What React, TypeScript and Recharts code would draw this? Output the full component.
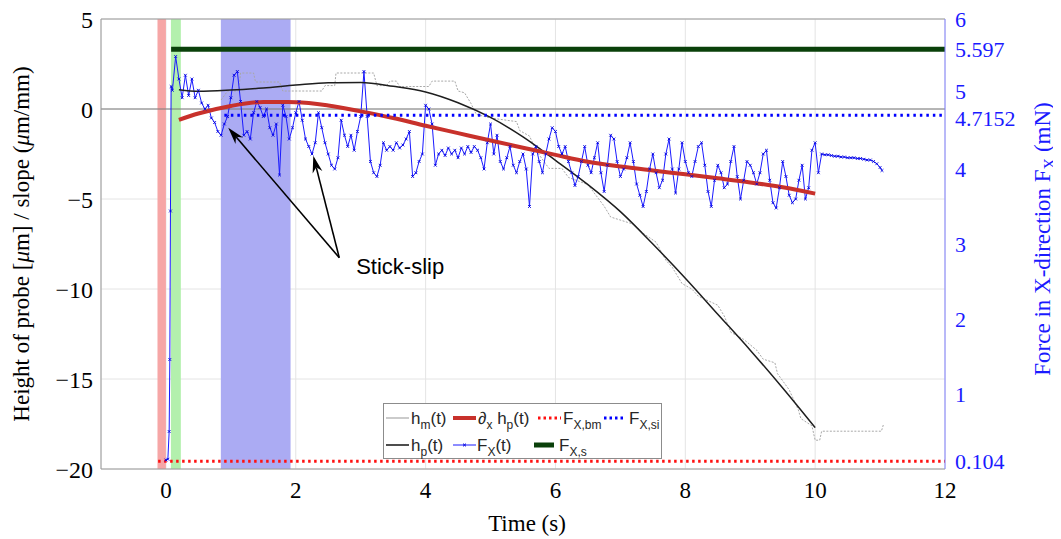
import React from 'react';
import {
  ComposedChart,
  Line,
  XAxis,
  YAxis,
  CartesianGrid,
  ReferenceArea,
  ReferenceLine,
  ReferenceDot,
} from 'recharts';

// ---------- axes ----------
const X_TICKS = [0, 2, 4, 6, 8, 10, 12];
const LEFT_TICKS = [-20, -15, -10, -5, 0, 5];
const RIGHT_TICKS = [0.104, 1, 2, 3, 4, 4.7152, 5, 5.597, 6];

// ---------- h_p(t) (smooth fit, left axis) ----------
const HP_T = [0.2, 0.5, 1, 1.5, 2, 2.5, 3, 3.5, 4, 4.5, 5, 5.5, 6, 6.5, 7, 7.5, 8, 8.5, 9, 9.5, 10];
const HP_V = [1.07, 0.98, 1.05, 1.17, 1.33, 1.46, 1.47, 1.26, 0.95, 0.35, -0.47, -1.55, -2.85, -4.2, -5.7, -7.5, -9.4, -11.4, -13.4, -15.5, -17.7];

// ---------- d/dx h_p(t) slope (left axis) ----------
const DHP_V = [-0.6, -0.25, 0.17, 0.39, 0.38, 0.2, -0.13, -0.5, -0.93, -1.34, -1.75, -2.15, -2.55, -2.93, -3.2, -3.42, -3.63, -3.85, -4.08, -4.35, -4.7];

// ---------- h_m(t) measured (stepped, left axis) ----------
const HM_T = [0.85, 0.95, 1.12, 1.15, 1.35, 1.38, 1.75, 1.8, 2.4, 2.45, 2.6, 2.62, 3.2, 3.25, 3.4, 3.45, 3.55, 3.6, 4.05, 4.1, 4.45, 4.5, 4.6, 4.7, 4.78, 5.0, 5.4, 5.45, 5.6, 5.7, 5.9, 6.1, 6.2, 6.5, 6.75, 6.85, 7.2, 7.35, 7.55, 7.7, 7.8, 7.95, 8.1, 8.2, 8.5, 8.6, 8.7, 8.9, 9.1, 9.2, 9.38, 9.42, 9.6, 9.74, 9.78, 9.95, 10.0, 10.07, 10.1, 11.02, 11.05];
const HM_V = [0.5, 1.0, 1.0, 2.0, 2.0, 1.5, 1.5, 1.0, 1.0, 1.3, 1.3, 2.0, 2.0, 1.3, 1.3, 1.55, 1.55, 1.25, 1.25, 1.55, 1.55, 1.0, 0.9, 0.3, -0.3, -0.5, -0.7, -1.2, -1.5, -2.3, -3.3, -3.3, -3.8, -4.2, -5.4, -6.0, -6.4, -6.9, -7.4, -8.4, -8.8, -9.7, -10.0, -10.4, -10.9, -11.5, -12.4, -12.8, -13.4, -13.9, -14.1, -14.7, -15.6, -16.7, -17.2, -17.6, -18.4, -18.4, -17.9, -17.9, -17.55];

// ---------- F_X(t) force (right axis) ----------
const FX_START_T = [0.0, 0.03, 0.05, 0.06, 0.07, 0.08];
const FX_START_V = [0.12, 0.13, 0.5, 1.46, 3.44, 5.1];
const FX_T0 = 0.1;
const FX_DT = 0.05;
const FX_V = [
  5.05, 5.5, 5.2, 4.95, 5.25, 4.98, 5.2, 4.95,
  5.05, 4.88, 4.8, 4.85, 4.68, 4.62, 4.5, 4.45, 4.6, 4.7,
  4.95, 5.25, 5.3, 4.9, 4.45, 4.5, 4.4, 4.75, 4.9, 4.82,
  4.7, 4.8, 4.55, 4.45, 4.6, 3.92, 4.85, 4.7, 4.4, 4.55,
  4.75, 4.9, 4.65, 4.4, 4.3, 4.2, 4.35, 4.75, 4.55, 4.35,
  4.2, 4.05, 4.0, 4.15, 4.65, 4.45, 4.3, 4.45, 4.25, 4.5,
  4.7, 5.3, 4.7, 4.1, 3.95, 3.9, 4.05, 4.35, 4.25, 4.3,
  4.25, 4.35, 4.28, 4.32, 4.4, 4.5, 3.9, 3.95, 4.1, 4.2,
  4.85, 4.8, 4.6, 4.05, 4.2, 4.25, 4.18, 4.28, 4.2, 4.25,
  4.15, 4.28, 4.2, 4.3, 4.22, 4.3, 4.25, 4.15, 4.0, 4.35,
  4.6, 4.2, 4.45, 4.1, 4.0, 4.15, 4.3, 4.05, 3.95, 4.1,
  4.2, 4.0, 3.5, 4.2, 4.3, 4.1, 3.95, 4.2, 4.4, 4.55,
  4.5, 4.3, 4.2, 4.3, 4.1, 3.95, 3.78, 3.9, 4.1, 4.3,
  4.05, 3.95, 4.15, 4.35, 3.95, 3.7, 4.05, 4.45, 4.4, 4.1,
  3.9, 4.0, 4.15, 4.35, 4.1, 3.8, 3.65, 3.5, 3.7, 4.0,
  4.2, 3.95, 3.75, 3.85, 4.2, 4.4, 4.0, 3.68, 4.0, 4.35,
  4.1, 3.95, 3.9, 4.1, 4.3, 4.35, 4.05, 3.7, 3.5, 3.85,
  4.05, 3.95, 3.75, 3.8, 4.1, 4.3, 3.9, 3.6, 3.85, 4.1,
  4.05, 3.95, 3.8, 3.95, 4.2, 4.25, 3.85, 3.55, 3.48, 3.75,
  4.1, 3.9, 3.65, 3.55, 3.6, 3.85, 4.05, 3.6, 3.75, 4.25,
  4.35, 3.95,
];
const FX_TAIL_T = [10.1, 10.15, 10.2, 10.25, 10.3, 10.35, 10.4, 10.45, 10.5, 10.55, 10.6, 10.65, 10.7, 10.75, 10.8, 10.85, 10.9, 10.95, 11.0, 11.03];
const FX_TAIL_V = [4.2, 4.19, 4.19, 4.18, 4.17, 4.17, 4.16, 4.16, 4.15, 4.15, 4.15, 4.14, 4.14, 4.13, 4.12, 4.12, 4.1, 4.07, 4.02, 3.98];

// ---------- constant force levels (right axis) ----------
const FXS = 5.597;
const FXS_RANGE = [0.08, 12];
const FXSI = 4.7152;
const FXSI_RANGE = [0.9, 12];
const FXBM = 0.104;
const FXBM_RANGE = [-0.12, 12];

// ---------- shaded phases ----------
const BAND_RED = [-0.13, 0.0];
const BAND_GREEN = [0.077, 0.23];
const BAND_BLUE = [0.846, 1.92];

// ---------- annotation ----------
const ARROW_FROM = { x: 2.67, y: -8.26 };
const ARROW_TIPS = [{ x: 0.96, y: -1.04 }, { x: 2.27, y: -2.6 }];
const LABEL_POS = { x: 2.93, y: -8.82 };

// ---------- build series ----------
const zip = (ts: number[], vs: number[]) => ts.map((t, i) => ({ t, v: vs[i] }));
const hpData = zip(HP_T, HP_V);
const dhpData = zip(HP_T, DHP_V);
const hmData = zip(HM_T, HM_V);
const fxData = [
  ...zip(FX_START_T, FX_START_V),
  ...FX_V.map((v, i) => ({ t: +(FX_T0 + i * FX_DT).toFixed(2), v })),
  ...zip(FX_TAIL_T, FX_TAIL_V),
];
const fxsData = FXS_RANGE.map((t) => ({ t, v: FXS }));
const fxsiData = FXSI_RANGE.map((t) => ({ t, v: FXSI }));
const fxbmData = FXBM_RANGE.map((t) => ({ t, v: FXBM }));

const SERIF = '"Liberation Serif", "Times New Roman", serif';
const SANS = '"Liberation Sans", Arial, sans-serif';
const BLUE = '#1a1aff';

const fmtLeft = (v: number) => (v < 0 ? `\u2212${Math.abs(v)}` : `${v}`);

// small vertical nudges so the close labels 5 / 4.7152 do not collide
const RIGHT_NUDGE: Record<string, number> = { '5': -3, '4.7152': 3 };

const RightTick = (p: any) => {
  const { x, y, payload } = p;
  const key = String(payload.value);
  const dy = RIGHT_NUDGE[key] || 0;
  return (
    <text
      x={x}
      y={y + dy}
      dy="0.355em"
      textAnchor="start"
      fontFamily={SERIF}
      fontSize={22}
      fill={BLUE}
    >
      {key}
    </text>
  );
};

const FxDot = (p: any) => {
  const { cx, cy, index } = p;
  if (cx == null || cy == null) return <g key={`d${index}`} />;
  const s = 1.4;
  return (
    <path
      key={`d${index}`}
      d={`M${cx - s},${cy - s}L${cx + s},${cy + s}M${cx - s},${cy + s}L${cx + s},${cy - s}`}
      stroke="#0000e0"
      strokeWidth={0.9}
      fill="none"
    />
  );
};

const arrowShape = (p: any) => {
  const { x1, y1, x2, y2 } = p;
  const dx = x2 - x1;
  const dy = y2 - y1;
  const L = Math.hypot(dx, dy) || 1;
  const ux = dx / L;
  const uy = dy / L;
  const hl = 17;
  const hw = 5;
  const bx = x2 - ux * hl;
  const by = y2 - uy * hl;
  const px = -uy;
  const py = ux;
  const nx = x2 - ux * hl * 0.7;
  const ny = y2 - uy * hl * 0.7;
  return (
    <g>
      <line x1={x1} y1={y1} x2={nx} y2={ny} stroke="#000" strokeWidth={1.6} />
      <path
        d={`M${x2},${y2}L${bx + px * hw},${by + py * hw}L${nx},${ny}L${bx - px * hw},${by - py * hw}Z`}
        fill="#000"
      />
    </g>
  );
};

const Legend = () => {
  const fs = 17;
  const sub = (s: string) => (
    <tspan fontSize={12} dy={5}>
      {s}
    </tspan>
  );
  const back = (t: string) => <tspan dy={-5}>{t}</tspan>;
  return (
    <div
      style={{
        position: 'absolute',
        left: 375,
        top: 395,
        width: 279,
        height: 56,
        background: '#fff',
        border: '1px solid #8c8c8c',
        boxSizing: 'border-box',
      }}
    >
      <svg width={279} height={56} style={{ position: 'absolute', left: -1, top: -1 }}>
        <g fontFamily={SANS} fontSize={fs} fill="#262626">
          {/* row 1 */}
          <line x1={3} x2={26} y1={15} y2={15} stroke="#a8a8a8" strokeWidth={1.2} />
          <text x={28} y={21}>h{sub('m')}{back('(t)')}</text>
          <line x1={70} x2={93} y1={15} y2={15} stroke="#c8312b" strokeWidth={4} />
          <text x={95} y={21}>{'\u2202'}{sub('x')}{back(' h')}{sub('p')}{back('(t)')}</text>
          <line x1={155} x2={178} y1={15} y2={15} stroke="#ff1010" strokeWidth={3} strokeDasharray="2.5 3" />
          <text x={180} y={21}>F{sub('X,bm')}</text>
          <line x1={221} x2={243} y1={15} y2={15} stroke="#0000ff" strokeWidth={3} strokeDasharray="2.5 3" />
          <text x={246} y={21}>F{sub('X,si')}</text>
          {/* row 2 */}
          <line x1={3} x2={26} y1={42} y2={42} stroke="#222" strokeWidth={1.6} />
          <text x={28} y={48}>h{sub('p')}{back('(t)')}</text>
          <line x1={70} x2={93} y1={42} y2={42} stroke={BLUE} strokeWidth={1} />
          <path d="M80,40.6L83,43.4M80,43.4L83,40.6" stroke="#0000e0" strokeWidth={1} />
          <text x={94} y={48}>F{sub('X')}{back('(t)')}</text>
          <line x1={151} x2={171} y1={42} y2={42} stroke="#0a400a" strokeWidth={5} />
          <text x={176} y={48}>F{sub('X,s')}</text>
        </g>
      </svg>
    </div>
  );
};

export default function App() {
  return (
    <div style={{ position: 'relative', width: 1053, height: 531 }}>
      <ComposedChart
        width={1053}
        height={531}
        margin={{ top: 11, right: 46, bottom: 30, left: 33 }}
      >
        <CartesianGrid yAxisId="left" stroke="#e4e4e4" strokeWidth={1} />
        <XAxis
          type="number"
          dataKey="t"
          domain={[-1, 12]}
          ticks={X_TICKS}
          interval={0}
          allowDataOverflow
          height={40}
          tickLine={false}
          tickSize={6}
          tickMargin={7}
          axisLine={{ stroke: '#9a9a9a' }}
          tick={{ fill: '#000', fontSize: 23, fontFamily: SERIF }}
          label={{
            content: () => (
              <text x={519} y={523} textAnchor="middle" fontFamily={SERIF} fontSize={23} fill="#000">
                Time (s)
              </text>
            ),
          }}
        />
        <YAxis
          yAxisId="left"
          type="number"
          domain={[-20, 5]}
          ticks={LEFT_TICKS}
          interval={0}
          allowDataOverflow
          width={60}
          tickLine={false}
          tickSize={6}
          tickMargin={2}
          tickFormatter={fmtLeft}
          axisLine={{ stroke: '#9a9a9a' }}
          tick={{ fill: '#000', fontSize: 24, fontFamily: SERIF }}
          label={{
            content: () => (
              <text
                x={16}
                y={236}
                transform="rotate(-90 16 236)"
                textAnchor="middle"
                dominantBaseline="middle"
                fontFamily={SERIF}
                fontSize={23}
                fill="#000"
              >
                Height of probe [<tspan fontStyle="italic">{'\u03bc'}</tspan>m] / slope (
                <tspan fontStyle="italic">{'\u03bc'}</tspan>m/mm)
              </text>
            ),
          }}
        />
        <YAxis
          yAxisId="right"
          orientation="right"
          type="number"
          domain={[0, 6]}
          ticks={RIGHT_TICKS}
          interval={0}
          allowDataOverflow
          width={70}
          tickLine={false}
          tickSize={6}
          tickMargin={4}
          axisLine={{ stroke: '#8080ff' }}
          tick={RightTick}
          label={{
            content: () => (
              <text
                x={1037}
                y={231}
                transform="rotate(-90 1037 231)"
                textAnchor="middle"
                dominantBaseline="middle"
                fontFamily={SERIF}
                fontSize={23}
                fill={BLUE}
              >
                Force in X-direction F<tspan fontSize={16} dy={6}>X</tspan>
                <tspan dy={-6}> (mN)</tspan>
              </text>
            ),
          }}
        />

        <ReferenceArea yAxisId="left" x1={BAND_RED[0]} x2={BAND_RED[1]} fill="#f6a6a6" fillOpacity={1} stroke="none" />
        <ReferenceArea yAxisId="left" x1={BAND_GREEN[0]} x2={BAND_GREEN[1]} fill="#b3f0ad" fillOpacity={1} stroke="none" />
        <ReferenceArea yAxisId="left" x1={BAND_BLUE[0]} x2={BAND_BLUE[1]} fill="#ababf3" fillOpacity={1} stroke="none" />

        <ReferenceLine yAxisId="left" y={0} stroke="#7a7a7a" strokeWidth={1.2} />
        <ReferenceLine yAxisId="left" y={5} stroke="#9a9a9a" strokeWidth={1} />

        <Line
          yAxisId="left"
          data={hmData}
          dataKey="v"
          type="linear"
          stroke="#a8a8a8"
          strokeWidth={1}
          strokeDasharray="2 1.5"
          dot={false}
          isAnimationActive={false}
        />
        <Line
          yAxisId="right"
          data={fxData}
          dataKey="v"
          type="linear"
          stroke={BLUE}
          strokeWidth={1}
          dot={FxDot}
          activeDot={false}
          isAnimationActive={false}
        />
        <Line
          yAxisId="left"
          data={hpData}
          dataKey="v"
          type="monotone"
          stroke="#1e1e1e"
          strokeWidth={1.5}
          dot={false}
          isAnimationActive={false}
        />
        <Line
          yAxisId="left"
          data={dhpData}
          dataKey="v"
          type="monotone"
          stroke="#c8312b"
          strokeWidth={4}
          dot={false}
          isAnimationActive={false}
        />
        <Line
          yAxisId="right"
          data={fxbmData}
          dataKey="v"
          stroke="#ff1010"
          strokeWidth={3}
          strokeDasharray="2.5 3.5"
          dot={false}
          isAnimationActive={false}
        />
        <Line
          yAxisId="right"
          data={fxsiData}
          dataKey="v"
          stroke="#0000ff"
          strokeWidth={3}
          strokeDasharray="2.5 4"
          dot={false}
          isAnimationActive={false}
        />
        <Line
          yAxisId="right"
          data={fxsData}
          dataKey="v"
          stroke="#0a400a"
          strokeWidth={5}
          dot={false}
          isAnimationActive={false}
        />

        {ARROW_TIPS.map((tip, i) => (
          <ReferenceLine
            key={`arrow${i}`}
            yAxisId="left"
            segment={[ARROW_FROM, tip]}
            shape={arrowShape}
          />
        ))}
        <ReferenceDot
          yAxisId="left"
          x={LABEL_POS.x}
          y={LABEL_POS.y}
          r={0}
          shape={(p: any) => (
            <text
              x={p.cx}
              y={p.cy}
              dominantBaseline="middle"
              fontFamily={SANS}
              fontSize={22}
              fill="#000"
            >
              Stick-slip
            </text>
          )}
        />
      </ComposedChart>
      <Legend />
    </div>
  );
}
